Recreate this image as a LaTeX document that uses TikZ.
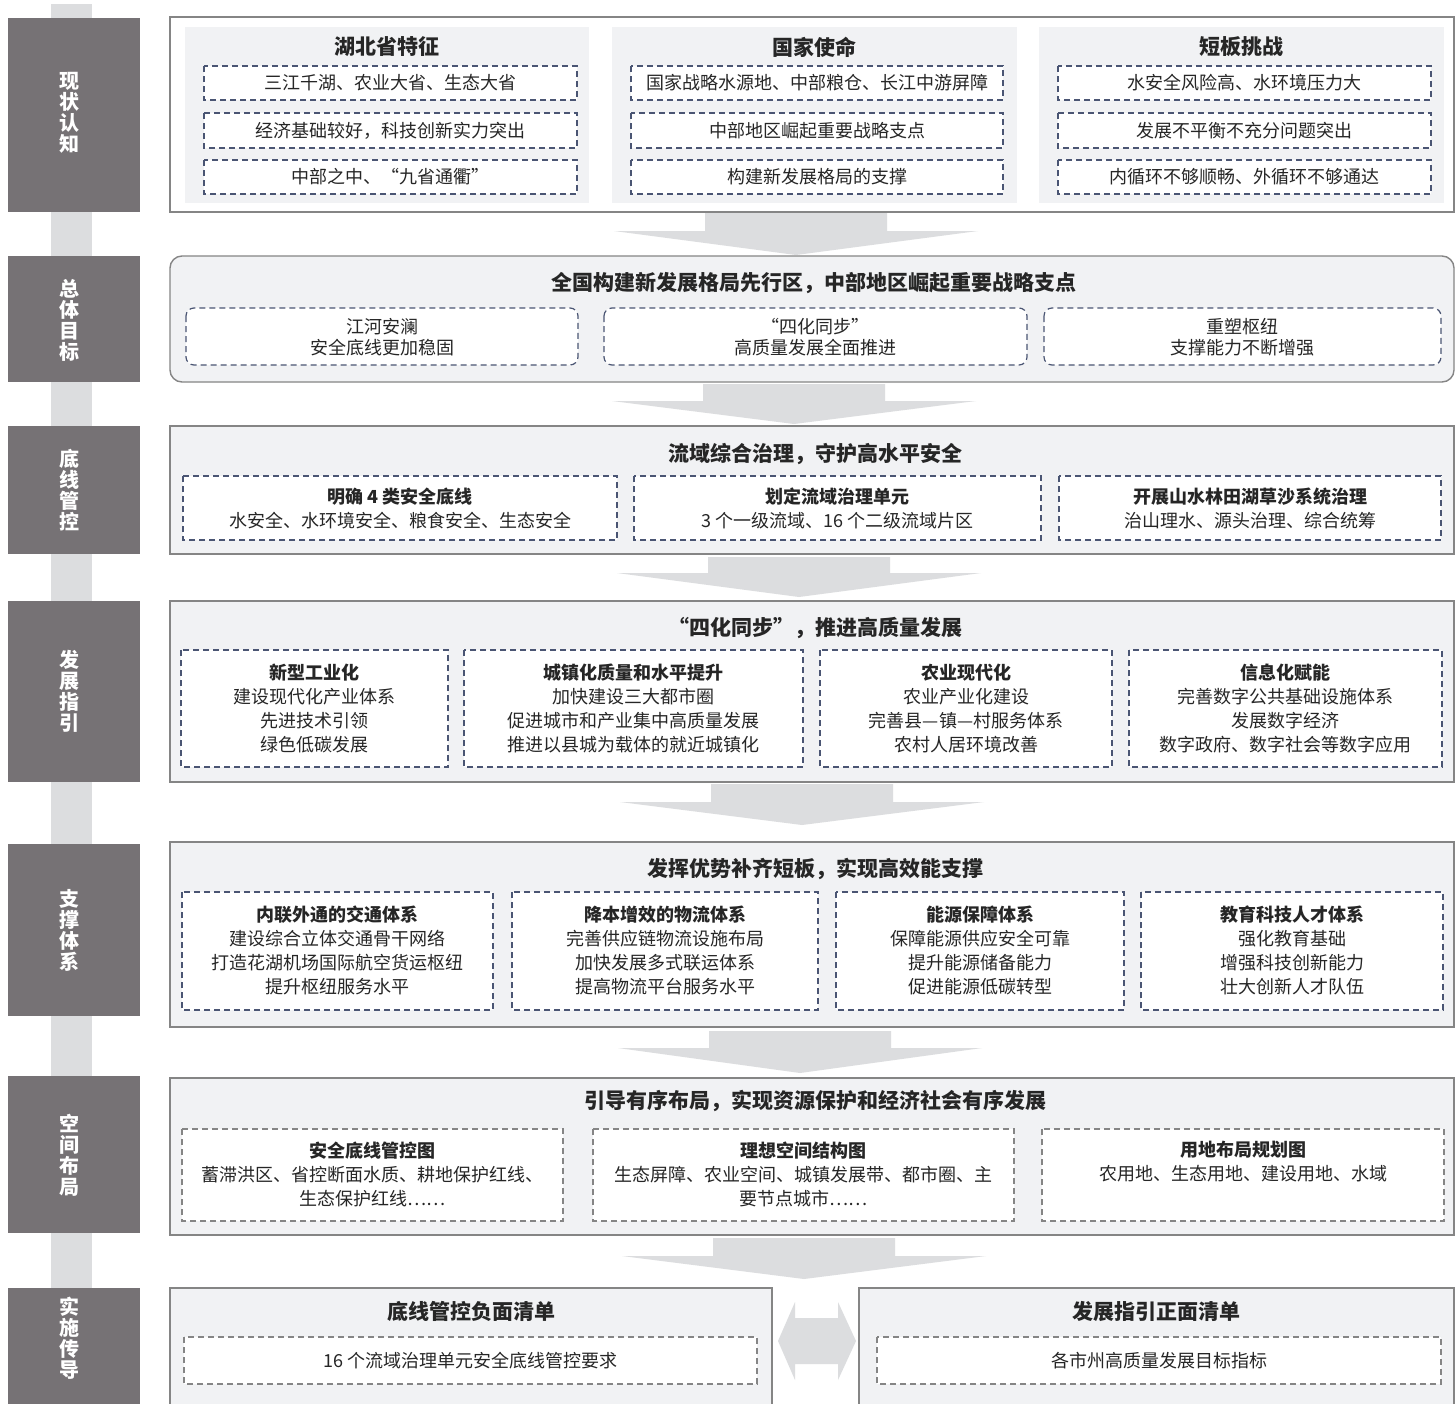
\documentclass[tikz,border=0pt]{standalone}
\usepackage{fontspec}
\setmainfont{Noto Sans CJK SC}
\definecolor{labelgray}{HTML}{767275}
\definecolor{spinegray}{HTML}{DCDDDF}
\definecolor{panelgray}{HTML}{F1F2F4}
\definecolor{framegray}{HTML}{858585}
\definecolor{dashnavy}{HTML}{4A5573}
\definecolor{dashgray}{HTML}{858585}
\definecolor{textgray}{HTML}{262626}
\tikzset{
  stagebox/.style={fill=labelgray},
  stagetext/.style={text=white, font=\bfseries\fontsize{10}{10.5}\selectfont, align=center},
  stageframe/.style={draw=framegray, line width=0.7pt, fill=panelgray},
  itembox/.style={draw=dashnavy, line width=0.6pt, dash pattern=on 3pt off 2pt, fill=white},
  itemboxg/.style={itembox, draw=dashgray},
  headtext/.style={text=textgray, font=\bfseries\fontsize{10.5}{12}\selectfont},
  itemtext/.style={text=textgray, font=\fontsize{9}{12}\selectfont, align=center},
}
\begin{document}
\begin{tikzpicture}[x=0.5pt,y=-0.5pt]
\clip (0,0) rectangle (1456,1403);
\fill[white] (0,0) rectangle (1456,1403);
% spine and stage labels
\fill[spinegray] (51,4) rectangle (92,1403);
\fill[stagebox] (8,18) rectangle (140,212);
\fill[stagebox] (8,256) rectangle (140,382);
\fill[stagebox] (8,426) rectangle (140,554);
\fill[stagebox] (8,601) rectangle (140,782);
\fill[stagebox] (8,844) rectangle (140,1016);
\fill[stagebox] (8,1076) rectangle (140,1233);
\fill[stagebox] (8,1288) rectangle (140,1420);
\node[stagetext] (s1) at (69,113) {现\\状\\认\\知};
\node[stagetext] (s2) at (69,320) {总\\体\\目\\标};
\node[stagetext] (s3) at (69,490) {底\\线\\管\\控};
\node[stagetext] (s4) at (69,691) {发\\展\\指\\引};
\node[stagetext] (s5) at (69,930) {支\\撑\\体\\系};
\node[stagetext] (s6) at (69,1155) {空\\间\\布\\局};
\node[stagetext] (s7) at (69,1338) {实\\施\\传\\导};
% block arrows between the stages
\foreach \cx/\ty/\ny/\tipy in {796/213/231/255, 794/384/401/424, 799/557/573/597,
    802/784/802/825, 800/1031/1048/1073, 804/1238/1256/1279}
  \fill[spinegray] (\cx-91,\ty) -- (\cx+91,\ty) -- (\cx+91,\ny) -- (\cx+182,\ny)
    -- (\cx,\tipy) -- (\cx-182,\ny) -- (\cx-91,\ny) -- cycle;
% 1 status
\draw[draw=framegray, line width=0.7pt, fill=white] (170,17) rectangle (1454,212);
\fill[panelgray] (185,27) rectangle (589,203);
\fill[panelgray] (612,27) rectangle (1017,203);
\fill[panelgray] (1039,27) rectangle (1444,203);
\node[headtext] (h1a) at (387,47) {湖北省特征};
\node[headtext] (h1b) at (814.5,47) {国家使命};
\node[headtext] (h1c) at (1241.5,47) {短板挑战};
\draw[itembox] (204,66) rectangle (577,100);
\draw[itembox] (204,113) rectangle (577,148);
\draw[itembox] (204,160) rectangle (577,194);
\draw[itembox] (631,66) rectangle (1003,100);
\draw[itembox] (631,113) rectangle (1003,148);
\draw[itembox] (631,160) rectangle (1003,194);
\draw[itembox] (1058,66) rectangle (1431,100);
\draw[itembox] (1058,113) rectangle (1431,148);
\draw[itembox] (1058,160) rectangle (1431,194);
\node[itemtext] (i1a) at (390.5,83) {三江千湖、农业大省、生态大省};
\node[itemtext] (i1b) at (390.5,130.5) {经济基础较好，科技创新实力突出};
\node[itemtext] (i1c) at (390.5,177) {中部之中、“九省通衢”};
\node[itemtext] (i1d) at (817,83) {国家战略水源地、中部粮仓、长江中游屏障};
\node[itemtext] (i1e) at (817,130.5) {中部地区崛起重要战略支点};
\node[itemtext] (i1f) at (817,177) {构建新发展格局的支撑};
\node[itemtext] (i1g) at (1244.5,83) {水安全风险高、水环境压力大};
\node[itemtext] (i1h) at (1244.5,130.5) {发展不平衡不充分问题突出};
\node[itemtext] (i1i) at (1244.5,177) {内循环不够顺畅、外循环不够通达};
% 2 goals
\draw[stageframe, rounded corners=6pt] (170,256) rectangle (1454,382);
\node[headtext] (h2) at (814,283) {全国构建新发展格局先行区，中部地区崛起重要战略支点};
\draw[itembox, rounded corners=4pt] (186,308) rectangle (578,365);
\draw[itembox, rounded corners=4pt] (604,308) rectangle (1027,365);
\draw[itembox, rounded corners=4pt] (1044,308) rectangle (1441,365);
\node[itemtext, font=\fontsize{9}{10.2}\selectfont] (i2a) at (382,337) {江河安澜\\安全底线更加稳固};
\node[itemtext, font=\fontsize{9}{10.2}\selectfont] (i2b) at (815.5,337) {“四化同步”\\高质量发展全面推进};
\node[itemtext, font=\fontsize{9}{10.2}\selectfont] (i2c) at (1242.5,337) {重塑枢纽\\支撑能力不断增强};
% 3 bottom lines
\draw[stageframe] (170,426) rectangle (1454,554);
\node[headtext] (h3) at (815,454) {流域综合治理，守护高水平安全};
\draw[itembox] (183,476) rectangle (617,540);
\draw[itembox] (634,476) rectangle (1041,540);
\draw[itembox] (1059,476) rectangle (1441,540);
\node[itemtext] (i3a) at (400,508) {{\bfseries 明确 4 类安全底线}\\水安全、水环境安全、粮食安全、生态安全};
\node[itemtext] (i3b) at (837.5,508) {{\bfseries 划定流域治理单元}\\3 个一级流域、16 个二级流域片区};
\node[itemtext] (i3c) at (1250,508) {{\bfseries 开展山水林田湖草沙系统治理}\\治山理水、源头治理、综合统筹};
% 4 development
\draw[stageframe] (170,601) rectangle (1454,782);
\node[headtext] (h4) at (815,628) {“四化同步”，推进高质量发展};
\draw[itembox] (181,650) rectangle (448,767);
\draw[itembox] (464,650) rectangle (803,767);
\draw[itembox] (820,650) rectangle (1112,767);
\draw[itembox] (1129,650) rectangle (1442,767);
\node[itemtext] (i4a) at (314.5,708.5) {{\bfseries 新型工业化}\\建设现代化产业体系\\先进技术引领\\绿色低碳发展};
\node[itemtext] (i4b) at (633.5,708.5) {{\bfseries 城镇化质量和水平提升}\\加快建设三大都市圈\\促进城市和产业集中高质量发展\\推进以县城为载体的就近城镇化};
\node[itemtext] (i4c) at (966,708.5) {{\bfseries 农业现代化}\\农业产业化建设\\完善县—镇—村服务体系\\农村人居环境改善};
\node[itemtext] (i4d) at (1285.5,708.5) {{\bfseries 信息化赋能}\\完善数字公共基础设施体系\\发展数字经济\\数字政府、数字社会等数字应用};
% 5 support
\draw[stageframe] (170,842) rectangle (1454,1027);
\node[headtext] (h5) at (815,869) {发挥优势补齐短板，实现高效能支撑};
\draw[itembox] (182,892) rectangle (493,1010);
\draw[itembox] (512,892) rectangle (818,1010);
\draw[itembox] (836,892) rectangle (1124,1010);
\draw[itembox] (1141,892) rectangle (1443,1010);
\node[itemtext] (i5a) at (337.5,950) {{\bfseries 内联外通的交通体系}\\建设综合立体交通骨干网络\\打造花湖机场国际航空货运枢纽\\提升枢纽服务水平};
\node[itemtext] (i5b) at (665,950) {{\bfseries 降本增效的物流体系}\\完善供应链物流设施布局\\加快发展多式联运体系\\提高物流平台服务水平};
\node[itemtext] (i5c) at (980,950) {{\bfseries 能源保障体系}\\保障能源供应安全可靠\\提升能源储备能力\\促进能源低碳转型};
\node[itemtext] (i5d) at (1292,950) {{\bfseries 教育科技人才体系}\\强化教育基础\\增强科技创新能力\\壮大创新人才队伍};
% 6 spatial layout
\draw[stageframe] (170,1078) rectangle (1454,1235);
\node[headtext] (h6) at (815,1101) {引导有序布局，实现资源保护和经济社会有序发展};
\draw[itemboxg] (182,1129) rectangle (563,1221);
\draw[itemboxg] (593,1129) rectangle (1014,1221);
\draw[itemboxg] (1042,1129) rectangle (1444,1221);
\node[itemtext] (i6a) at (372.5,1174) {{\bfseries 安全底线管控图}\\蓄滞洪区、省控断面水质、耕地保护红线、\\生态保护红线……};
\node[itemtext] (i6b) at (803.5,1174) {{\bfseries 理想空间结构图}\\生态屏障、农业空间、城镇发展带、都市圈、主\\要节点城市……};
\node[itemtext] (i6c) at (1243,1162) {{\bfseries 用地布局规划图}\\农用地、生态用地、建设用地、水域};
% 7 implementation
\draw[stageframe] (170,1288) rectangle (772,1420);
\draw[stageframe] (859,1288) rectangle (1454,1420);
\node[headtext] (h7a) at (471,1311) {底线管控负面清单};
\node[headtext] (h7b) at (1156.5,1311) {发展指引正面清单};
\draw[itemboxg] (184,1337) rectangle (757,1384);
\draw[itemboxg] (877,1337) rectangle (1441,1384);
\node[itemtext] (i7a) at (470.5,1361) {16 个流域治理单元安全底线管控要求};
\node[itemtext] (i7b) at (1159,1361) {各市州高质量发展目标指标};
\fill[spinegray] (778,1341) -- (795,1302) -- (795,1318) -- (838,1318) -- (838,1302)
  -- (856,1341) -- (838,1380) -- (838,1364) -- (795,1364) -- (795,1380) -- cycle;
\end{tikzpicture}
\end{document}
